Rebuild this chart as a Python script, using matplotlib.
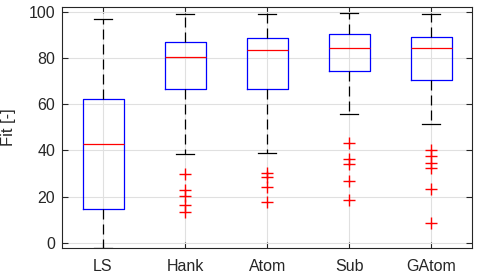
import matplotlib
matplotlib.use("Agg")
import matplotlib.pyplot as plt
import numpy as np

plt.rcParams['font.family'] = ['Liberation Sans', 'DejaVu Sans']

categories = ["LS", "Hank", "Atom", "Sub", "GAtom"]
whisker_low = [-2.0, 38.4, 38.8, 55.7, 51.4]
q1 = [14.5, 66.7, 66.7, 74.3, 70.3]
medians = [42.7, 80.2, 83.3, 84.4, 84.4]
q3 = [62.1, 86.8, 88.7, 90.5, 88.9]
whisker_high = [96.7, 98.8, 99.0, 99.3, 99.0]
outliers = [
    [],
    [29.9, 23.0, 20.3, 16.4, 13.4],
    [30.3, 28.6, 24.0, 17.5],
    [43.1, 36.2, 34.3, 26.8, 18.4],
    [40.1, 37.5, 34.6, 32.6, 23.1, 8.8],
]

stats = []
for i, c in enumerate(categories):
    stats.append(dict(label=c, whislo=whisker_low[i], q1=q1[i], med=medians[i],
                      q3=q3[i], whishi=whisker_high[i], fliers=outliers[i]))

fig = plt.figure(figsize=(4.78, 2.77), dpi=100)
ax = fig.add_axes([62/478, 29/277, 410.5/478, 241.5/277])

ax.bxp(stats, positions=np.arange(1, 6), widths=0.5, capwidths=0.22,
       boxprops=dict(color='#0000ff', linewidth=0.9),
       medianprops=dict(color='#ff0000', linewidth=0.9),
       whiskerprops=dict(color='black', linewidth=0.9, linestyle=(0, (8, 4))),
       capprops=dict(color='black', linewidth=0.9),
       flierprops=dict(marker='+', markeredgecolor='#ff0000', markersize=8,
                       markeredgewidth=1.0, linestyle='none'),
       zorder=3)

ax.set_xlim(0.5, 5.5)
ax.set_ylim(-2.2, 102.2)
ax.set_yticks([0, 20, 40, 60, 80, 100])
ax.set_xticks(np.arange(1, 6))
ax.set_xticklabels(categories)
ax.grid(True, color='#e0e0e0', linewidth=0.8, zorder=0)
ax.set_axisbelow(True)
ax.tick_params(direction='in', top=True, right=True, length=4, width=0.8,
               colors='#262626', labelsize=11.5)
ax.tick_params(axis='x', pad=8)
ax.tick_params(axis='y', pad=5)
for s in ax.spines.values():
    s.set_color('#262626')
    s.set_linewidth(0.8)
ax.set_ylabel("Fit [-]", fontsize=12, color='#262626', labelpad=9)

fig.savefig("out.png", dpi=100)
